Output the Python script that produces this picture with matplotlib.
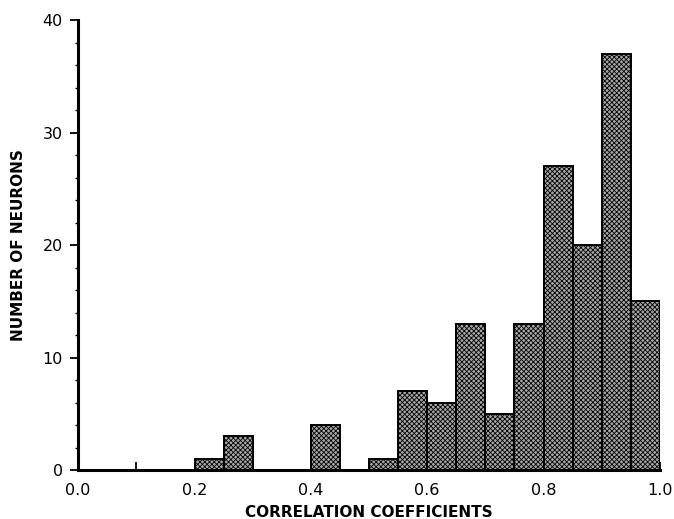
import numpy as np
import matplotlib.pyplot as plt
from matplotlib.ticker import MultipleLocator

plt.rcParams['font.family'] = ['DejaVu Sans']
plt.rcParams['hatch.linewidth'] = 0.6
plt.rcParams['hatch.color'] = '#202020'

# histogram of correlation coefficients, bins of 0.05
bin_left = [0.20, 0.25, 0.30, 0.35, 0.40, 0.45, 0.50, 0.55,
            0.60, 0.65, 0.70, 0.75, 0.80, 0.85, 0.90, 0.95]
counts = [1, 3, 0, 0, 4, 0, 1, 7, 6, 13, 5, 13, 27, 20, 37, 15]
bin_width = 0.05

xtick_lab = ['0.0', '0.2', '0.4', '0.6', '0.8', '1.0']
ytick_pos = [0, 10, 20, 30, 40]

fig = plt.figure(figsize=(6.74, 5.19), dpi=100)
ax = fig.add_axes([0.116, 0.094, 0.863, 0.867])

ax.bar(bin_left, counts, width=bin_width, align='edge',
       facecolor='#a8a8a8', edgecolor='black', linewidth=1.4,
       hatch='xxxxxxx')

ax.set_xlim(0, 1.0)
ax.set_ylim(0, 40)

for s in ['top', 'right']:
    ax.spines[s].set_visible(False)
ax.spines['left'].set_linewidth(2.2)
ax.spines['bottom'].set_linewidth(2.2)

ax.set_xticks(np.arange(0, 1.01, 0.1))
ax.set_xticklabels(['' if i % 2 else xtick_lab[i // 2] for i in range(11)])
ax.tick_params(axis='x', direction='in', length=6, width=1.3,
               labelsize=11.5, pad=9)
ax.set_yticks(ytick_pos)
ax.yaxis.set_minor_locator(MultipleLocator(2))
ax.tick_params(axis='y', which='major', direction='out', length=6,
               width=1.3, labelsize=11.5, pad=5)
ax.tick_params(axis='y', which='minor', direction='out', length=2,
               width=1.0)

ax.set_xlabel('CORRELATION COEFFICIENTS', fontsize=11, fontweight='bold',
              labelpad=5)
ax.set_ylabel('NUMBER OF NEURONS', fontsize=11, fontweight='bold',
              labelpad=12)

fig.savefig('out.png', dpi=100)
